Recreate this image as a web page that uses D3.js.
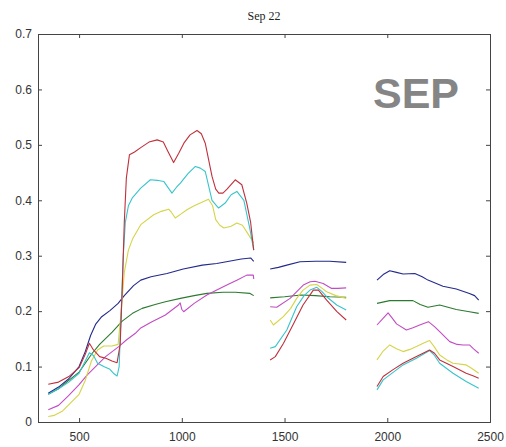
<!DOCTYPE html>
<html>
<head>
<meta charset="utf-8">
<script src="https://cdn.jsdelivr.net/npm/d3@7"></script>
<style>
html,body{margin:0;padding:0;background:#fff;}
svg{display:block;}
</style>
</head>
<body>
<svg id="chart" width="506" height="447"></svg>
<script>
// ---- data (wavelength nm, reflectance) ; NaN marks water-band gaps ----
const title = "Sep 22";
const label = "SEP";
const xTicks = [500, 1000, 1500, 2000, 2500];
const yTicks = [0, 0.1, 0.2, 0.3, 0.4, 0.5, 0.6, 0.7];
const gap1 = [[1390, NaN]];
const gap2 = [[1870, NaN]];

const red = [[350,.068],[400,.072],[450,.082],[500,.098],[530,.122],[550,.142],[570,.13],[600,.118],[630,.115],[660,.11],[685,.107],[700,.14],[710,.24],[720,.36],[730,.44],[745,.482],[770,.487],[800,.495],[840,.505],[880,.509],[910,.505],[930,.49],[960,.468],[985,.485],[1010,.503],[1040,.518],[1074,.526],[1095,.52],[1114,.503],[1147,.443],[1165,.42],[1180,.413],[1200,.413],[1220,.42],[1260,.437],[1292,.428],[1316,.395],[1335,.36],[1350,.31],
  ...gap1,[1430,.112],[1455,.118],[1495,.142],[1545,.178],[1590,.211],[1640,.238],[1665,.238],[1705,.22],[1755,.199],[1800,.184],
  ...gap2,[1950,.064],[1980,.082],[2030,.095],[2077,.106],[2142,.118],[2206,.13],[2230,.124],[2255,.112],[2320,.1],[2384,.088],[2420,.083],[2445,.079]];

const cyan = [[350,.05],[400,.06],[450,.072],[500,.088],[530,.11],[550,.125],[570,.12],[590,.106],[620,.1],[650,.095],[670,.087],[685,.083],[695,.1],[705,.2],[715,.3],[725,.36],[740,.39],[760,.405],[800,.422],[847,.437],[880,.436],[912,.434],[935,.422],[952,.413],[975,.424],[993,.431],[1030,.448],[1066,.461],[1090,.458],[1114,.452],[1147,.4],[1179,.386],[1211,.395],[1240,.41],[1268,.416],[1302,.4],[1332,.347],[1350,.31],
  ...gap1,[1430,.133],[1455,.136],[1511,.166],[1559,.208],[1595,.228],[1624,.238],[1657,.243],[1680,.236],[1705,.226],[1754,.211],[1800,.202],
  ...gap2,[1950,.058],[1980,.076],[2030,.09],[2077,.103],[2142,.115],[2206,.129],[2230,.12],[2255,.106],[2320,.088],[2384,.073],[2445,.061]];

const yellow = [[350,.01],[380,.012],[420,.02],[460,.035],[500,.05],[530,.075],[560,.11],[590,.13],[620,.137],[660,.137],[690,.14],[705,.2],[720,.27],[740,.31],[760,.33],[800,.356],[863,.374],[900,.38],[936,.384],[950,.378],[968,.368],[995,.375],[1025,.383],[1060,.39],[1090,.395],[1130,.402],[1150,.39],[1165,.365],[1185,.355],[1205,.35],[1240,.353],[1268,.359],[1295,.355],[1316,.343],[1350,.323],
  ...gap1,[1430,.184],[1446,.175],[1494,.19],[1530,.205],[1559,.223],[1590,.238],[1624,.247],[1657,.248],[1680,.242],[1705,.235],[1750,.228],[1800,.223],
  ...gap2,[1950,.112],[1980,.128],[2012,.139],[2045,.132],[2077,.127],[2110,.131],[2142,.136],[2180,.143],[2206,.147],[2230,.135],[2255,.121],[2290,.112],[2320,.106],[2384,.103],[2410,.097],[2445,.088]];

const blue = [[350,.052],[400,.063],[450,.078],[500,.1],[530,.127],[556,.156],[580,.176],[610,.19],[650,.201],[690,.214],[720,.228],[765,.246],[800,.256],[850,.262],[928,.268],[1007,.276],[1100,.283],[1170,.286],[1230,.29],[1290,.294],[1335,.296],[1350,.29],
  ...gap1,[1430,.276],[1470,.279],[1511,.283],[1575,.289],[1650,.29],[1720,.29],[1800,.288],
  ...gap2,[1950,.256],[1980,.266],[2012,.273],[2045,.27],[2077,.267],[2134,.268],[2170,.262],[2198,.256],[2271,.245],[2336,.24],[2400,.232],[2425,.228],[2445,.22]];

const green = [[350,.05],[400,.06],[450,.075],[500,.09],[530,.106],[564,.124],[600,.14],[661,.162],[710,.182],[760,.196],[807,.205],[870,.212],[920,.217],[993,.223],[1060,.228],[1122,.232],[1200,.234],[1260,.234],[1332,.232],[1350,.228],
  ...gap1,[1430,.224],[1500,.226],[1580,.229],[1650,.228],[1720,.226],[1800,.225],
  ...gap2,[1950,.214],[2012,.219],[2125,.219],[2160,.212],[2198,.207],[2255,.211],[2336,.203],[2400,.199],[2445,.196]];

const magenta = [[350,.022],[400,.03],[450,.048],[499,.067],[540,.085],[580,.1],[629,.118],[693,.136],[730,.148],[774,.16],[798,.169],[850,.18],[920,.193],[984,.211],[992,.215],[1000,.203],[1009,.199],[1060,.214],[1122,.229],[1170,.238],[1219,.247],[1270,.256],[1316,.265],[1348,.265],[1350,.258],
  ...gap1,[1430,.208],[1462,.207],[1527,.223],[1591,.247],[1625,.253],[1648,.254],[1688,.25],[1729,.241],[1760,.241],[1800,.242],
  ...gap2,[1950,.175],[1975,.185],[2004,.197],[2025,.187],[2045,.177],[2093,.166],[2125,.17],[2158,.175],[2200,.181],[2230,.172],[2255,.163],[2304,.145],[2340,.14],[2369,.139],[2400,.139],[2420,.132],[2445,.124]];

const seriesNames = ["green","blue","magenta","yellow","cyan","red"];
const seriesData = {red, cyan, yellow, blue, green, magenta};
const seriesColors = {red:"#c0303c", cyan:"#38c4cc", yellow:"#d6d448", blue:"#232a8c", green:"#2c7a30", magenta:"#c24cc4"};

// ---- layout ----
const W = 506, H = 447;
const L = 38, R = 490, T = 34, B = 422;
const svg = d3.select("#chart");
svg.append("rect").attr("width", W).attr("height", H).attr("fill", "#fff");

const x = d3.scaleLinear().domain([300, 2500]).range([L, R]);
const y = d3.scaleLinear().domain([0, 0.7]).range([B, T]);

const axisColor = "#444";
const tickFont = "'Liberation Sans', Arial, sans-serif";

// axes
const gx = svg.append("g").attr("transform", `translate(0,${B})`)
  .call(d3.axisBottom(x).tickValues(xTicks).tickSize(-4).tickPadding(10).tickFormat(d3.format("d")));
const gxTop = svg.append("g").attr("transform", `translate(0,${T})`)
  .call(d3.axisTop(x).tickValues(xTicks).tickSize(-4).tickFormat(""));
const gy = svg.append("g").attr("transform", `translate(${L},0)`)
  .call(d3.axisLeft(y).tickValues(yTicks).tickSize(-4).tickPadding(6).tickFormat(d => d === 0 ? "0" : d3.format(".1f")(d)));
const gyR = svg.append("g").attr("transform", `translate(${R},0)`)
  .call(d3.axisRight(y).tickValues(yTicks).tickSize(-4).tickFormat(""));

[gx, gxTop, gy, gyR].forEach(g => {
  g.select(".domain").attr("stroke", axisColor).attr("stroke-width", 1);
  g.selectAll(".tick line").attr("stroke", axisColor);
  g.selectAll("text").attr("fill", "#333").style("font-family", tickFont).style("font-size", "12px");
});

// lines
const line = d3.line()
  .defined(d => !isNaN(d[1]))
  .x(d => x(d[0]))
  .y(d => y(d[1]));

svg.append("g").selectAll("path")
  .data(seriesNames)
  .join("path")
  .attr("d", n => line(seriesData[n]))
  .attr("fill", "none")
  .attr("stroke", n => seriesColors[n])
  .attr("stroke-width", 1.1)
  .attr("stroke-linejoin", "round");

// title
svg.append("text")
  .attr("x", (L + R) / 2).attr("y", 20)
  .attr("text-anchor", "middle")
  .style("font-family", "'Liberation Serif', 'Times New Roman', serif")
  .style("font-size", "12px")
  .attr("fill", "#222")
  .text(title);

// big label
svg.append("text")
  .attr("x", 373).attr("y", 108)
  .style("font-family", "'Liberation Sans', Arial, sans-serif")
  .style("font-weight", "bold")
  .style("font-size", "43px")
  .attr("fill", "#858585")
  .text(label);
</script>
</body>
</html>
